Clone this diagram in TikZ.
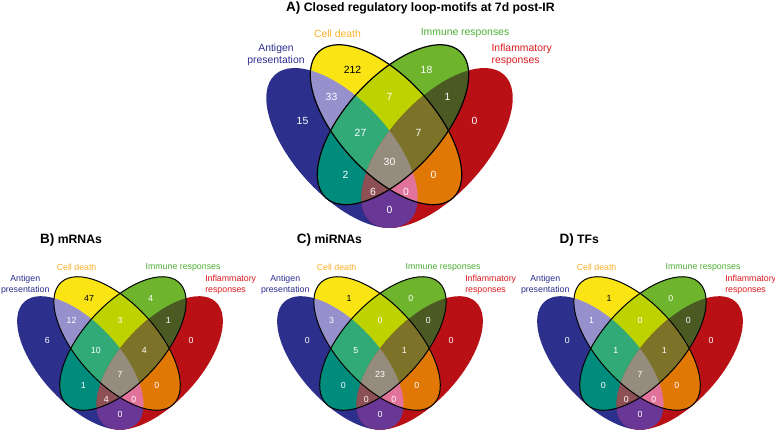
\documentclass[tikz,border=0pt]{standalone}
\usepackage{fontspec}
\setmainfont{Liberation Sans}
\usetikzlibrary{positioning}
\definecolor{VennBlue}{RGB}{44,48,140}
\definecolor{VennRed}{RGB}{185,16,22}
\definecolor{VennYellow}{RGB}{250,228,20}
\definecolor{VennGreen}{RGB}{110,180,45}
\definecolor{VennBY}{RGB}{150,145,205}
\definecolor{VennBG}{RGB}{0,140,125}
\definecolor{VennBR}{RGB}{105,55,150}
\definecolor{VennYG}{RGB}{190,210,0}
\definecolor{VennYR}{RGB}{225,120,5}
\definecolor{VennGR}{RGB}{75,90,35}
\definecolor{VennBYG}{RGB}{50,170,120}
\definecolor{VennBYR}{RGB}{225,115,155}
\definecolor{VennBGR}{RGB}{140,80,85}
\definecolor{VennYGR}{RGB}{125,115,40}
\definecolor{VennAll}{RGB}{150,140,125}
\definecolor{LabNavy}{RGB}{45,45,145}
\definecolor{LabOrange}{RGB}{250,175,40}
\definecolor{LabGreen}{RGB}{75,175,50}
\definecolor{LabRed}{RGB}{220,25,30}
\newcommand\vennbig{\fontsize{10.4bp}{12.7bp}\selectfont}
\newcommand\vennsmall{\fontsize{8.8bp}{10.8bp}\selectfont}
\newcommand\vennletter{\fontsize{13.5bp}{14bp}\selectfont}
\tikzset{
  venn/antigen/.style={shift={(-47.5,20.3)},rotate=-47.5},
  venn/death/.style={shift={(-3.5,-3)},rotate=-47.5},
  venn/immune/.style={shift={(3.5,-3)},rotate=47.5},
  venn/inflam/.style={shift={(47.5,20.3)},rotate=47.5},
  venn/num/.style={text=white,inner sep=0pt},
  venn/label/.style={inner sep=0pt,align=center},
  venn/title/.style={font=\bfseries\fontsize{12.2bp}{14bp}\selectfont,anchor=base west,inner sep=0pt}
}
\newcommand\vennpaint[2]{\fill[venn/#1,fill=#2] (0,0) ellipse [x radius=99.3,y radius=47.6];}
\newcommand\vennclip[1]{\clip[venn/#1] (0,0) ellipse [x radius=99.3,y radius=47.6];}
% one four-set diagram, centred at the scope origin
\newcommand\venndiagram{%
  \vennpaint{antigen}{VennBlue}
  \vennpaint{inflam}{VennRed}
  \vennpaint{death}{VennYellow}
  \vennpaint{immune}{VennGreen}
  \begin{scope}\vennclip{antigen}\vennpaint{death}{VennBY}\end{scope}
  \begin{scope}\vennclip{antigen}\vennpaint{immune}{VennBG}\end{scope}
  \begin{scope}\vennclip{antigen}\vennpaint{inflam}{VennBR}\end{scope}
  \begin{scope}\vennclip{death}\vennpaint{immune}{VennYG}\end{scope}
  \begin{scope}\vennclip{death}\vennpaint{inflam}{VennYR}\end{scope}
  \begin{scope}\vennclip{immune}\vennpaint{inflam}{VennGR}\end{scope}
  \begin{scope}\vennclip{antigen}\vennclip{death}\vennpaint{immune}{VennBYG}\end{scope}
  \begin{scope}\vennclip{antigen}\vennclip{death}\vennpaint{inflam}{VennBYR}\end{scope}
  \begin{scope}\vennclip{antigen}\vennclip{immune}\vennpaint{inflam}{VennBGR}\end{scope}
  \begin{scope}\vennclip{death}\vennclip{immune}\vennpaint{inflam}{VennYGR}\end{scope}
  \begin{scope}\vennclip{antigen}\vennclip{death}\vennclip{immune}\vennpaint{inflam}{VennAll}\end{scope}
  \draw[venn/death] (0,0) ellipse [x radius=99.3,y radius=47.6];
  \draw[venn/immune] (0,0) ellipse [x radius=99.3,y radius=47.6];
  % region centres
  \coordinate (b) at (-87,-6.5);
  \coordinate (y) at (-37,-57.5);
  \coordinate (g) at (37,-57.5);
  \coordinate (r) at (85,-6.5);
  \coordinate (by) at (-58,-31);
  \coordinate (yg) at (0,-31);
  \coordinate (gr) at (58,-31);
  \coordinate (byg) at (-29,5.3);
  \coordinate (ygr) at (29,5.3);
  \coordinate (all) at (0,34.5);
  \coordinate (bg) at (-44,47.5);
  \coordinate (yr) at (44,47.5);
  \coordinate (bgr) at (-16.5,64.3);
  \coordinate (byr) at (16.5,64.3);
  \coordinate (br) at (0,82.5);
  % set names
  \node[venn/label,text=LabNavy] (antigen) at (-113.5,-73) {Antigen\\presentation};
  \node[venn/label,text=LabOrange] (death) at (-52,-94.4) {Cell death};
  \node[venn/label,text=LabGreen] (immune) at (75.5,-94.4) {Immune responses};
  \node[venn/label,align=left,anchor=west,text=LabRed] (inflam) at (101.5,-73) {Inflammatory\\responses};
}

\begin{document}
\begin{tikzpicture}[x=1bp,y=-1bp]
  \useasboundingbox (0,0) rectangle (775,430);

  \node[venn/title] (titleA) at (286,11.7) {{\vennletter A)} Closed regulatory loop-motifs at 7d post-IR};
  \node[venn/title] (titleB) at (40,243.3) {{\vennletter B)} mRNAs};
  \node[venn/title] (titleC) at (296.7,243.3) {{\vennletter C)} miRNAs};
  \node[venn/title] (titleD) at (559.3,243.3) {{\vennletter D)} TFs};

  \begin{scope}[shift={(389.5,127.7)},name prefix=A-,font=\vennbig,line width=1.2bp]
    \venndiagram
    \node[venn/num,text=black] (ny) at (y) {212};
    \foreach \r/\n in {b/15,g/18,r/0,by/33,yg/7,gr/1,byg/27,ygr/7,all/30,bg/2,yr/0,bgr/6,byr/0,br/0}
      {\node[venn/num] (n\r) at (\r) {\n};}
  \end{scope}

  \begin{scope}[shift={(120,346)},scale=0.835,name prefix=B-,font=\vennsmall,line width=1bp]
    \venndiagram
    \node[venn/num,text=black] (ny) at (y) {47};
    \foreach \r/\n in {b/6,g/4,r/0,by/12,yg/3,gr/1,byg/10,ygr/4,all/7,bg/1,yr/0,bgr/4,byr/0,br/0}
      {\node[venn/num] (n\r) at (\r) {\n};}
  \end{scope}

  \begin{scope}[shift={(380,346)},scale=0.835,name prefix=C-,font=\vennsmall,line width=1bp]
    \venndiagram
    \node[venn/num,text=black] (ny) at (y) {1};
    \foreach \r/\n in {b/0,g/0,r/0,by/3,yg/0,gr/0,byg/5,ygr/1,all/23,bg/0,yr/0,bgr/0,byr/0,br/0}
      {\node[venn/num] (n\r) at (\r) {\n};}
  \end{scope}

  \begin{scope}[shift={(640,346)},scale=0.835,name prefix=D-,font=\vennsmall,line width=1bp]
    \venndiagram
    \node[venn/num,text=black] (ny) at (y) {1};
    \foreach \r/\n in {b/0,g/0,r/0,by/1,yg/0,gr/0,byg/1,ygr/1,all/7,bg/0,yr/0,bgr/0,byr/0,br/0}
      {\node[venn/num] (n\r) at (\r) {\n};}
  \end{scope}
\end{tikzpicture}
\end{document}
